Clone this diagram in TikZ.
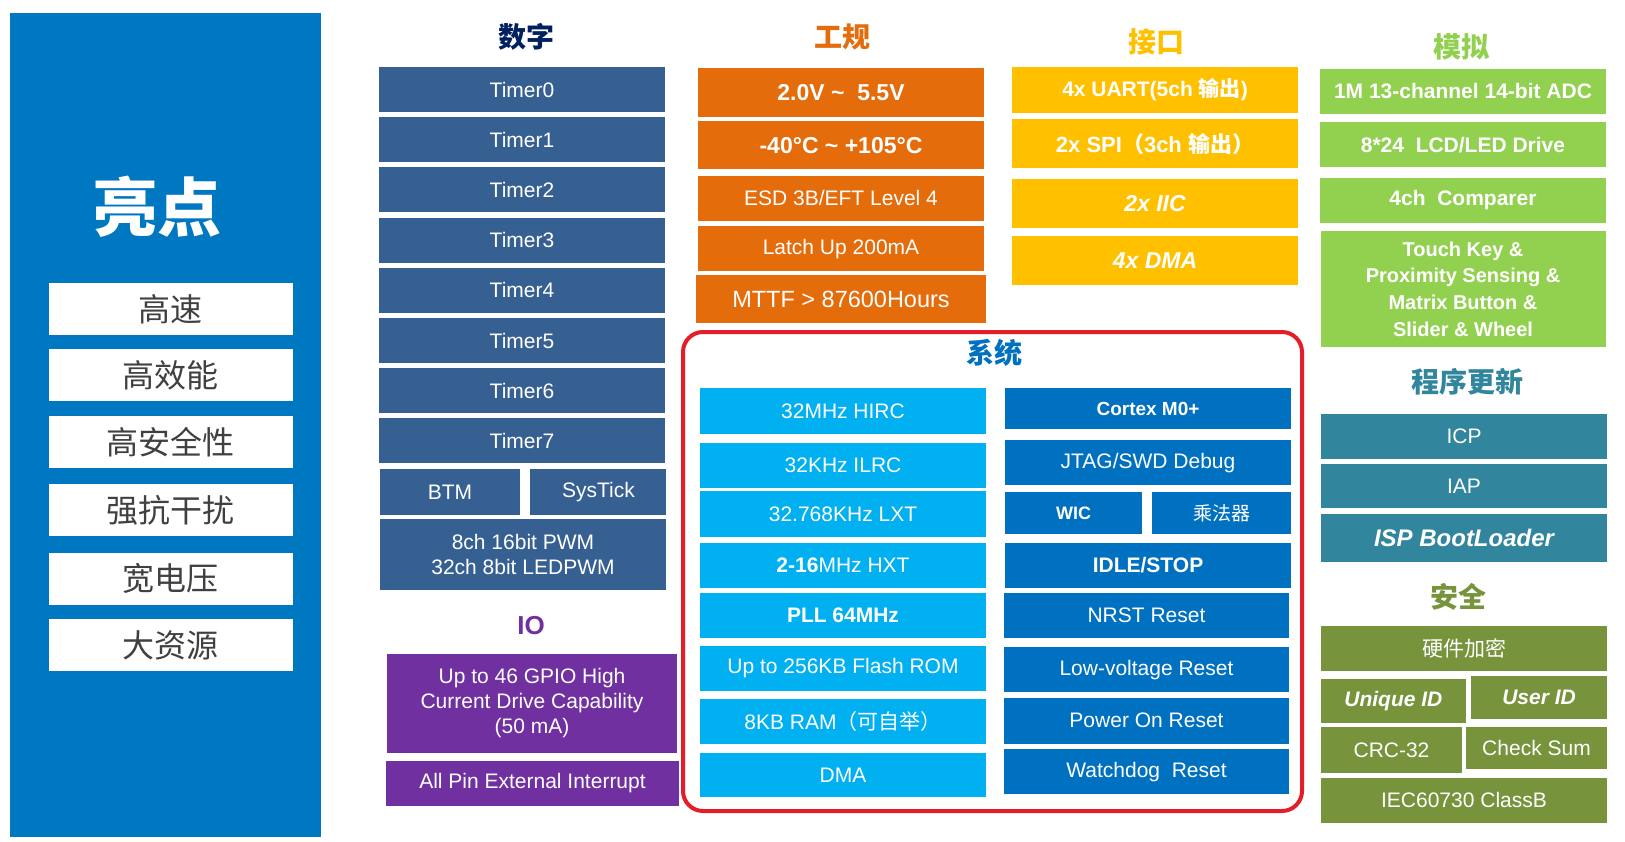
\documentclass[tikz,border=0pt]{standalone}
\usepackage{fontspec}
\setmainfont{Liberation Sans}
\newfontfamily\cjk{Noto Sans CJK SC}
\usetikzlibrary{positioning}

\definecolor{hlblue}{RGB}{0,119,193}
\definecolor{hlgray}{RGB}{64,64,64}
\definecolor{digblue}{RGB}{0,32,96}
\definecolor{tmrblue}{RGB}{55,96,146}
\definecolor{iopurple}{RGB}{112,48,160}
\definecolor{indorange}{RGB}{228,108,10}
\definecolor{itfgold}{RGB}{255,192,0}
\definecolor{anagreen}{RGB}{146,208,80}
\definecolor{clkcyan}{RGB}{0,176,240}
\definecolor{cpublue}{RGB}{0,112,192}
\definecolor{updteal}{RGB}{49,133,156}
\definecolor{secolive}{RGB}{119,147,60}
\definecolor{frame}{RGB}{227,30,40}

\begin{document}
\begin{tikzpicture}[
		x=1pt, y=-1pt
		,cell/.style={rectangle, inner sep=0pt, minimum width=286pt, minimum height=45pt, text=white, align=center, font=\fontsize{21}{25}\selectfont}
		,strong/.style={font=\fontsize{21}{25}\selectfont\bfseries}
		,slant/.style={font=\fontsize{23}{25}\selectfont\bfseries\itshape}
		,hl/.style={cell, fill=white, text=hlgray, minimum width=244pt, minimum height=52pt, font=\cjk\fontsize{32}{36}\selectfont}
		,head/.style={font=\cjk\fontsize{28}{30}\selectfont\bfseries}
		,dig/.style={cell, fill=tmrblue}
		,io/.style={cell, fill=iopurple}
		,ind/.style={cell, fill=indorange}
		,itf/.style={cell, fill=itfgold, strong}
		,ana/.style={cell, fill=anagreen, strong}
		,clk/.style={cell, fill=clkcyan}
		,cpu/.style={cell, fill=cpublue}
		,upd/.style={cell, fill=updteal}
		,sec/.style={cell, fill=secolive}
	]
		\useasboundingbox (0,0) rectangle (1625,841);

		% highlights
		\fill[hlblue] (10,13) rectangle (321,837);
		\node[text=white, font=\cjk\fontsize{64}{66}\selectfont\bfseries] (hltitle) at (157,207) {亮点};
		\node[hl] (fast) at (170.5,309) {高速};
		\node[hl, below=14pt of fast] (eff) {高效能};
		\node[hl, below=14pt of eff] (safe) {高安全性};
		\node[hl, below=16pt of safe] (emc) {强抗干扰};
		\node[hl, below=16pt of emc] (volt) {宽电压};
		\node[hl, below=14pt of volt] (res) {大资源};

		% digital
		\node[head, text=digblue] (digtitle) at (526,37) {数字};
		\node[dig] (t0) at (522,89.5) {Timer0};
		\node[dig, below=4.8pt of t0] (t1) {Timer1};
		\node[dig, below=4.8pt of t1] (t2) {Timer2};
		\node[dig, below=4.8pt of t2] (t3) {Timer3};
		\node[dig, below=4.8pt of t3] (t4) {Timer4};
		\node[dig, below=4.8pt of t4] (t5) {Timer5};
		\node[dig, below=4.8pt of t5] (t6) {Timer6};
		\node[dig, below=4.8pt of t6] (t7) {Timer7};
		\node[dig, minimum width=140pt, minimum height=45.7pt] (btm) at (450,492) {BTM};
		\node[dig, minimum width=136pt, minimum height=45.7pt, right=10pt of btm] (systick) {SysTick};
		\node[dig, minimum height=70.7pt] (pwm) at (523,554.4) {8ch 16bit PWM\\32ch 8bit LEDPWM};

		% io
		\node[text=iopurple, font=\fontsize{26}{28}\selectfont\bfseries] (iotitle) at (531,626) {IO};
		\node[io, minimum width=290pt, minimum height=98.7pt] (gpio) at (532,703.4) {Up to 46 GPIO High\\Current Drive Capability\\(50 mA)};
		\node[io, minimum width=293pt, minimum height=44.7pt] (exti) at (532.5,783.4) {All Pin External Interrupt};

		% industrial
		\node[head, text=indorange] (indtitle) at (842,37) {工规};
		\node[ind, minimum height=48.7pt, font=\fontsize{23}{25}\selectfont\bfseries] (vdd) at (841,92.4) {2.0V \textasciitilde\ \ 5.5V};
		\node[ind, minimum height=47.7pt, font=\fontsize{23}{25}\selectfont\bfseries, below=4.3pt of vdd] (temp) {-40°C \textasciitilde\ +105°C};
		\node[ind, minimum height=44.7pt, below=6.3pt of temp] (esd) {ESD 3B/EFT Level 4};
		\node[ind, minimum height=44.7pt, below=5.3pt of esd] (latch) {Latch Up 200mA};
		\node[ind, minimum width=290pt, minimum height=48.7pt, font=\fontsize{23.5}{25}\selectfont, below=3.3pt of latch] (mttf) {MTTF > 87600Hours};

		% interfaces
		\node[head, text=itfgold] (itftitle) at (1156,42) {接口};
		\node[itf, minimum height=45.7pt] (uart) at (1155,89.9) {4x UART(5ch {\cjk 输出})};
		\node[itf, minimum height=48.7pt, font=\fontsize{22}{25}\selectfont\bfseries, below=6.3pt of uart] (spi) {2x SPI{\cjk （}3ch {\cjk 输出）}};
		\node[itf, minimum height=48.7pt, slant, below=10.3pt of spi] (iic) {2x IIC};
		\node[itf, minimum height=48.7pt, slant, below=8.3pt of iic] (dma4) {4x DMA};

		% analog
		\node[head, text=anagreen] (anatitle) at (1461,47) {模拟};
		\node[ana, minimum height=44.7pt] (adc) at (1463,91.4) {1M 13-channel 14-bit ADC};
		\node[ana, minimum height=44.7pt, below=8.3pt of adc] (lcd) {8*24\ \ LCD/LED Drive};
		\node[ana, minimum height=44.7pt, below=10.3pt of lcd] (cmp) {4ch\ \ Comparer};
		\node[ana, minimum width=285pt, minimum height=115.7pt, font=\fontsize{20}{26.7}\selectfont\bfseries, below=8.3pt of cmp] (touch) {Touch Key \&\\Proximity Sensing \&\\Matrix Button \&\\Slider \& Wheel};

		% update
		\node[head, text=updteal] (updtitle) at (1467,382) {程序更新};
		\node[upd] (icp) at (1464,436.5) {ICP};
		\node[upd, minimum height=44.4pt, below=4.3pt of icp] (iap) {IAP};
		\node[upd, minimum height=47.4pt, font=\fontsize{24}{25}\selectfont\bfseries\itshape, below=5.6pt of iap] (isp) {ISP BootLoader};

		% security
		\node[head, text=secolive] (sectitle) at (1458,597) {安全};
		\node[sec, minimum height=44.7pt, font=\cjk\fontsize{21}{25}\selectfont] (crypt) at (1464,648.4) {硬件加密};
		\node[sec, minimum width=144.7pt, minimum height=44.7pt, font=\fontsize{21}{25}\selectfont\bfseries\itshape] (uid) at (1393.4,701) {Unique ID};
		\node[sec, minimum width=136pt, minimum height=42.7pt, font=\fontsize{21}{25}\selectfont\bfseries\itshape] (usrid) at (1539,697.5) {User ID};
		\node[sec, minimum width=141pt, minimum height=45.7pt] (crc) at (1391.5,749.9) {CRC-32};
		\node[sec, minimum width=141pt, minimum height=41.7pt] (chk) at (1536.5,747.9) {Check Sum};
		\node[sec, minimum height=44.7pt] (iec) at (1464,800.4) {IEC60730 ClassB};

		% system
		\draw[frame, line width=4pt, rounded corners=20pt] (683,332) rectangle (1302,811);
		\node[head, text=cpublue] (systitle) at (994,353) {系统};
		\node[clk, minimum height=45.4pt] (hirc) at (843,411) {32MHz HIRC};
		\node[clk, minimum height=44.7pt, below=9.3pt of hirc] (ilrc) {32KHz ILRC};
		\node[clk, minimum height=45.4pt, below=2.6pt of ilrc] (lxt) {32.768KHz LXT};
		\node[clk, minimum height=44.7pt, below=6.3pt of lxt] (hxt) {\textbf{2-16}MHz HXT};
		\node[clk, minimum height=45.4pt, strong, below=4.6pt of hxt] (pll) {PLL 64MHz};
		\node[clk, minimum height=44.7pt, below=7.3pt of pll] (flash) {Up to 256KB Flash ROM};
		\node[clk, minimum height=44.7pt, below=8.3pt of flash] (ram) {8KB RAM{\cjk （可自举）}};
		\node[clk, minimum height=44.3pt, below=8.3pt of ram] (dma) {DMA};

		\node[cpu, minimum height=41.3pt, font=\fontsize{19}{25}\selectfont\bfseries] (core) at (1148,408.7) {Cortex M0+};
		\node[cpu, minimum height=44.7pt, below=10.7pt of core] (jtag) {JTAG/SWD Debug};
		\node[cpu, minimum width=137pt, minimum height=41.4pt, font=\fontsize{18}{25}\selectfont\bfseries] (wic) at (1073.5,513) {WIC};
		\node[cpu, minimum width=139pt, minimum height=41.4pt, font=\cjk\fontsize{19}{25}\selectfont, right=10pt of wic] (mul) {乘法器};
		\node[cpu, minimum height=45.6pt, strong] (idle) at (1148,565.5) {IDLE/STOP};
		\node[cpu, minimum width=285pt, minimum height=44.7pt] (nrst) at (1146.5,615.4) {NRST Reset};
		\node[cpu, minimum width=285pt, minimum height=44.7pt, below=9.3pt of nrst] (lvr) {Low-voltage Reset};
		\node[cpu, minimum width=285pt, minimum height=45.7pt, below=5.3pt of lvr] (por) {Power On Reset};
		\node[cpu, minimum width=285pt, minimum height=44.7pt, below=5.3pt of por] (wdt) {Watchdog\ \ Reset};
	\end{tikzpicture}
\end{document}
